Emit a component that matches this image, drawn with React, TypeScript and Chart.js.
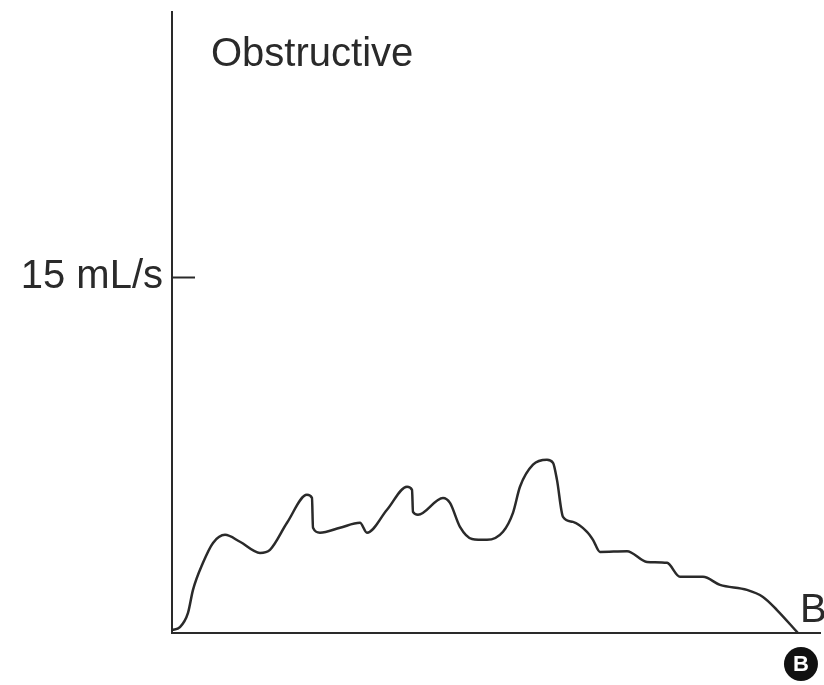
import React, { useEffect, useRef } from "react";
import { Chart, registerables } from "chart.js";
Chart.register(...registerables);

// Expiratory flow curve (volume in arbitrary units, flow in mL/s)
const volume = [
  0, 1.23, 2.47, 3.24, 4.78, 6.33, 8.18, 10.49, 13.58, 15.12, 17.75, 20.83, 21.6, 21.76,
  22.84, 25.93, 29.01, 30.09, 33.18, 36.27, 37.04, 37.19, 37.96, 41.82, 42.9, 44.44,
  46.3, 48.61, 51.08, 52.62, 53.7, 55.71, 57.87, 58.8, 59.41, 60.34, 61.88, 64.04,
  64.97, 66.05, 70.22, 73.3, 76.39, 78.4, 81.94, 84.57, 88.73, 91.2, 93.36, 96.6,
];
const flow = [
  0.13, 0.25, 0.85, 1.82, 2.96, 3.8, 4.14, 3.85, 3.38, 3.51, 4.65, 5.83, 5.7, 4.44,
  4.23, 4.44, 4.65, 4.23, 5.2, 6.17, 6.04, 5.11, 4.99, 5.7, 5.49, 4.48,
  3.97, 3.93, 4.27, 5.07, 6.17, 7.1, 7.31, 7.18, 6.46, 4.9, 4.69, 4.27,
  3.93, 3.42, 3.45, 3.0, 2.96, 2.37, 2.37, 2.03, 1.82, 1.52, 0.97, 0,
];
const yTickValues = [15];
const yTickLabels = ["15 mL/s"];
const xRange = [0, 100];
const yRange = [0, 26.2];
const titleText = "Obstructive";
const endLabel = "B";
const badgeLabel = "B";

const FONT = '"Liberation Sans", Arial, Helvetica, sans-serif';
const INK = "#2a2a2a";

export default function App() {
  const ref = useRef<HTMLCanvasElement>(null);

  useEffect(() => {
    if (!ref.current) return;
    const annot = {
      id: "annot",
      afterDraw(chart: any) {
        const { ctx, chartArea, scales } = chart;
        const xs = scales.x;
        const ys = scales.y;
        ctx.save();
        // inner tick mark at 15
        ctx.strokeStyle = INK;
        ctx.lineWidth = 2;
        yTickValues.forEach((v) => {
          const ty = Math.round(ys.getPixelForValue(v)) + 0.5;
          ctx.beginPath();
          ctx.moveTo(chartArea.left, ty);
          ctx.lineTo(chartArea.left + 23, ty);
          ctx.stroke();
        });
        // title
        ctx.fillStyle = INK;
        ctx.font = `40px ${FONT}`;
        ctx.textAlign = "left";
        ctx.textBaseline = "alphabetic";
        ctx.fillText(titleText, chartArea.left + 39, chartArea.top + 54);
        // end label
        const endX = xs.getPixelForValue(volume[volume.length - 1]);
        const y0 = ys.getPixelForValue(0);
        ctx.fillText(endLabel, endX + 2, y0 - 11);
        // badge
        ctx.beginPath();
        ctx.arc(endX + 3, y0 + 31, 17, 0, Math.PI * 2);
        ctx.fillStyle = "#111";
        ctx.fill();
        ctx.fillStyle = "#fff";
        ctx.font = `bold 22px ${FONT}`;
        ctx.textAlign = "center";
        ctx.textBaseline = "middle";
        ctx.fillText(badgeLabel, endX + 3, y0 + 32);
        ctx.restore();
      },
    };

    const chart = new Chart(ref.current, {
      type: "line",
      data: {
        datasets: [
          {
            data: volume.map((v, i) => ({ x: v, y: flow[i] })),
            borderColor: INK,
            borderWidth: 2.5,
            pointRadius: 0,
            fill: false,
            cubicInterpolationMode: "monotone",
            clip: false as any,
          },
        ],
      },
      options: {
        animation: false,
        responsive: false,
        events: [],
        layout: { padding: { top: 12, right: 4, bottom: 0, left: 0 } },
        plugins: { legend: { display: false }, tooltip: { enabled: false }, title: { display: false } },
        scales: {
          x: {
            type: "linear",
            min: xRange[0],
            max: xRange[1],
            grid: { display: false },
            border: { display: true, color: INK, width: 2 },
            ticks: { display: false },
            afterFit: (s: any) => {
              s.height = 52;
              s.paddingLeft = 0;
              s.paddingRight = 0;
            },
          },
          y: {
            type: "linear",
            min: yRange[0],
            max: yRange[1],
            grid: { display: false, drawTicks: false },
            border: { display: true, color: INK, width: 2 },
            afterBuildTicks: (s: any) => {
              s.ticks = yTickValues.map((v) => ({ value: v }));
            },
            ticks: {
              padding: 9,
              color: INK,
              font: { family: FONT, size: 40 },
              callback: (v: any) => {
                const i = yTickValues.indexOf(Number(v));
                return i >= 0 ? yTickLabels[i] : "";
              },
            },
            afterFit: (s: any) => {
              s.width = 172;
              s.paddingTop = 0;
              s.paddingBottom = 0;
            },
          },
        },
      },
      plugins: [annot],
    } as any);
    return () => chart.destroy();
  }, []);

  return (
    <div style={{ position: "absolute", left: 0, top: 0, width: 824, height: 685, background: "#fff" }}>
      <canvas ref={ref} width={824} height={685} />
    </div>
  );
}
